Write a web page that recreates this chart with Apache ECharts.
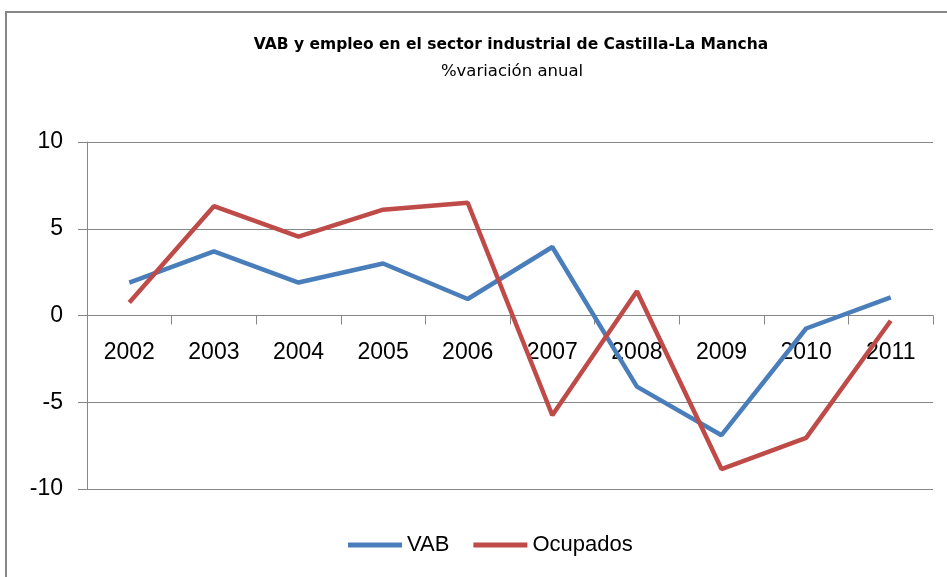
<!DOCTYPE html>
<html>
<head>
<meta charset="utf-8">
<script src="https://cdn.jsdelivr.net/npm/echarts@6/dist/echarts.min.js"></script>
<style>
  html, body { margin: 0; padding: 0; background: #fff; }
  #chart { width: 947px; height: 577px; }
</style>
</head>
<body>
<div id="chart"></div>
<script>
const years = ['2002', '2003', '2004', '2005', '2006', '2007', '2008', '2009', '2010', '2011']
const vab = [1.9, 3.7, 1.9, 3.0, 0.95, 3.95, -4.1, -6.9, -0.75, 1.05]
const ocupados = [0.75, 6.3, 4.55, 6.1, 6.5, -5.75, 1.4, -8.85, -7.05, -0.3]

const chart = echarts.init(document.getElementById('chart'))

const labelFont = 'Liberation Sans'

chart.setOption({
    animation: false,
    graphic: [{
        type: 'rect',
        shape: { x: 6, y: 12, width: 1000, height: 700 },
        style: { fill: 'none', stroke: '#868686', lineWidth: 2 },
        silent: true
    }],
    title: [{
        text: 'VAB y empleo en el sector industrial de Castilla-La Mancha',
        left: 506,
        top: 32,
        textAlign: 'center',
        textStyle: { fontFamily: 'DejaVu Sans', fontWeight: 'bold', fontSize: 15.5, color: '#000' }
    }, {
        text: '%variación anual',
        left: 507,
        top: 58,
        textAlign: 'center',
        textStyle: { fontFamily: 'DejaVu Sans', fontWeight: 'normal', fontSize: 16.5, color: '#000' }
    }],
    legend: {
        data: ['VAB', 'Ocupados'],
        left: 343,
        top: 529,
        itemWidth: 54,
        itemHeight: 5,
        itemGap: 24,
        icon: 'rect',
        textStyle: { fontFamily: labelFont, fontSize: 22, color: '#000' }
    },
    grid: { left: 87, right: 14, top: 142, bottom: 88 },
    xAxis: {
        type: 'category',
        data: years,
        boundaryGap: true,
        axisLine: { onZero: true, lineStyle: { color: '#868686', width: 1 } },
        axisTick: { show: true, length: 9, lineStyle: { color: '#868686' } },
        // labels sit under the zero line, not the bottom of the grid
        axisLabel: { fontFamily: labelFont, fontSize: 23, color: '#000', margin: -148 }
    },
    yAxis: {
        type: 'value',
        min: -10,
        max: 10,
        interval: 5,
        axisLine: { show: true, lineStyle: { color: '#868686', width: 1 } },
        axisTick: { show: true, length: 9, lineStyle: { color: '#868686' } },
        axisLabel: { fontFamily: labelFont, fontSize: 23, color: '#000', margin: 24 },
        splitLine: { show: true, lineStyle: { color: '#868686', width: 1 } }
    },
    series: [{
        name: 'VAB',
        type: 'line',
        data: vab,
        symbol: 'none',
        color: '#4A7EBB',
        lineStyle: { width: 4.5, color: '#4A7EBB' }
    }, {
        name: 'Ocupados',
        type: 'line',
        data: ocupados,
        symbol: 'none',
        color: '#BE4B48',
        lineStyle: { width: 4.5, color: '#BE4B48' }
    }]
})
</script>
</body>
</html>
